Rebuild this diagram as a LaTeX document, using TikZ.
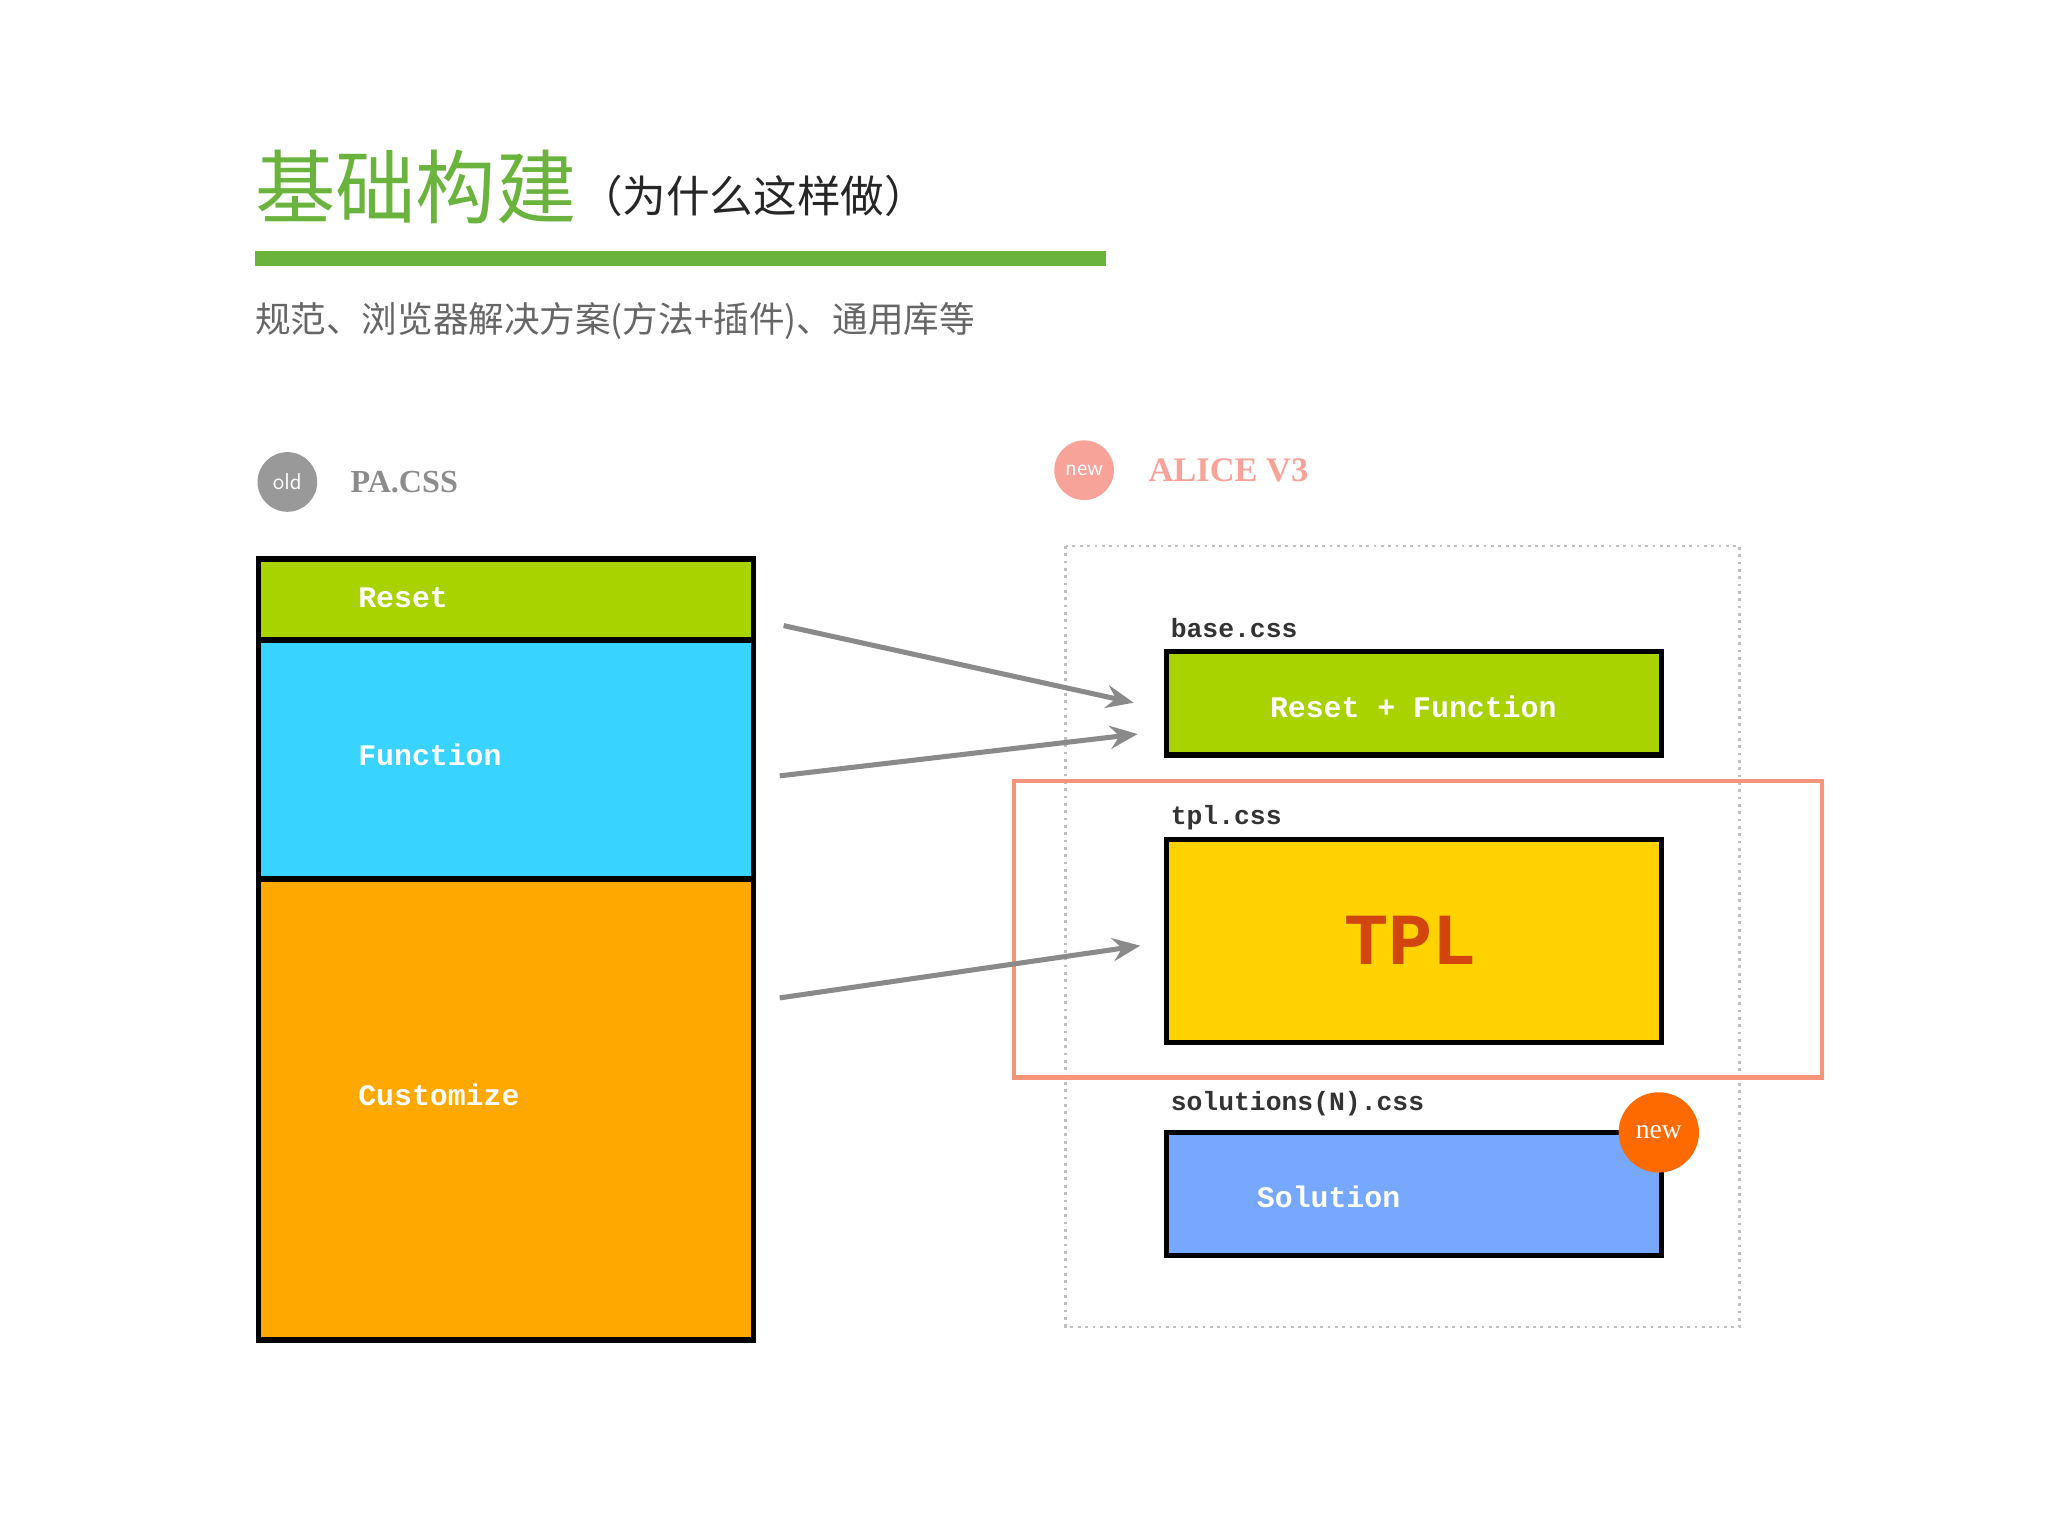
\documentclass[tikz,border=0pt]{standalone}
\usepackage{fontspec}
\setmainfont{Liberation Serif}
\newfontfamily\cjk{Noto Sans CJK SC}
\newfontfamily\mono{Liberation Mono}
\usetikzlibrary{arrows.meta}
\definecolor{tgreen}{HTML}{6AB43E}
\definecolor{bgreen}{HTML}{A8D200}
\definecolor{bcyan}{HTML}{38D4FF}
\definecolor{borange}{HTML}{FFA800}
\definecolor{byellow}{HTML}{FFD200}
\definecolor{bblue}{HTML}{76A8FF}
\definecolor{pinkc}{HTML}{F7A39A}
\definecolor{framec}{HTML}{F4957A}
\definecolor{arrc}{HTML}{8A8A8A}
\definecolor{tplc}{HTML}{D2450F}
\definecolor{badgec}{HTML}{FF6A00}
\begin{document}
\begin{tikzpicture}[x=0.02cm,y=-0.02cm,
 blk/.style={draw=black,line width=2.3pt},
 lbl/.style={font=\mono\bfseries\fontsize{13}{13}\selectfont,text=white,anchor=west,inner sep=0},
 file/.style={font=\mono\bfseries\fontsize{11.5}{12}\selectfont,text=black!80,anchor=west,inner sep=0},
 arr/.style={draw=arrc,line width=2.2pt,-{Stealth[length=12pt,width=10pt,inset=4pt]}}]
\useasboundingbox (0,0) rectangle (1568,1176);
\node[anchor=west,inner sep=0,text=tgreen,font=\cjk\fontsize{35}{36}\selectfont] (t1) at (195,143) {基础构建};
\node[anchor=west,inner sep=0,text=black!85,font=\cjk\fontsize{19}{20}\selectfont] (t2) at (443,150) {（为什么这样做）};
\fill[tgreen] (195,192) rectangle (847,204);
\node[anchor=west,inner sep=0,text=black!60,font=\cjk\fontsize{15.5}{16}\selectfont] (sub) at (195,246) {规范、浏览器解决方案(方法+插件)、通用库等};
\node[circle,fill=black!40,minimum size=26pt,inner sep=0,text=white,font=\sffamily\fontsize{10}{10}\selectfont] (old) at (220,369) {old};
\node[anchor=west,inner sep=0,text=black!45,font=\bfseries\fontsize{14}{14}\selectfont] (pa) at (268,369) {PA.CSS};
\node[circle,fill=pinkc,minimum size=26pt,inner sep=0,text=white,font=\sffamily\fontsize{10}{10}\selectfont] (nw) at (830,360) {new};
\node[anchor=west,inner sep=0,text=pinkc,font=\bfseries\fontsize{15}{15}\selectfont] (al) at (879,360) {ALICE V3};
% left stack
\filldraw[blk,fill=bgreen] (198,428) rectangle (577,490);
\filldraw[blk,fill=bcyan] (198,490) rectangle (577,673);
\filldraw[blk,fill=borange] (198,673) rectangle (577,1026);
\node[lbl] (r) at (274,458) {Reset};
\node[lbl] (f) at (274,578) {Function};
\node[lbl] (c) at (274,838) {Customize};
% right
\draw[black!25,line width=1.2pt,dotted] (816,418) rectangle (1332,1016);
\node[file] (bc) at (896,481) {base.css};
\filldraw[blk,fill=bgreen] (893,499) rectangle (1272,578);
\node[lbl,anchor=center] (rf) at (1082,541) {Reset + Function};
\node[file] (tc) at (896,626) {tpl.css};
\filldraw[blk,fill=byellow] (893,643) rectangle (1272,798);
\node[inner sep=0,text=tplc,font=\mono\bfseries\fontsize{32}{32}\selectfont] (tpl) at (1080,720) {TPL};
\draw[framec,line width=1.8pt] (776,598) rectangle (1395,825);
\node[file] (sc) at (896,845) {solutions(N).css};
\filldraw[blk,fill=bblue] (893,867) rectangle (1272,961);
\node[lbl] (so) at (962,916) {Solution};
\node[circle,fill=badgec,minimum size=35pt,inner sep=0,text=white,font=\fontsize{12}{12}\selectfont] (nb) at (1270,867) {new};
% arrows
\coordinate (a1s) at (600,479); \coordinate (a1e) at (868,538);
\coordinate (a2s) at (597,594); \coordinate (a2e) at (871,562);
\coordinate (a3s) at (597,764); \coordinate (a3e) at (873,724);
\draw[arr] (a1s) -- (a1e);
\draw[arr] (a2s) -- (a2e);
\draw[arr] (a3s) -- (a3e);
\end{tikzpicture}
\end{document}
